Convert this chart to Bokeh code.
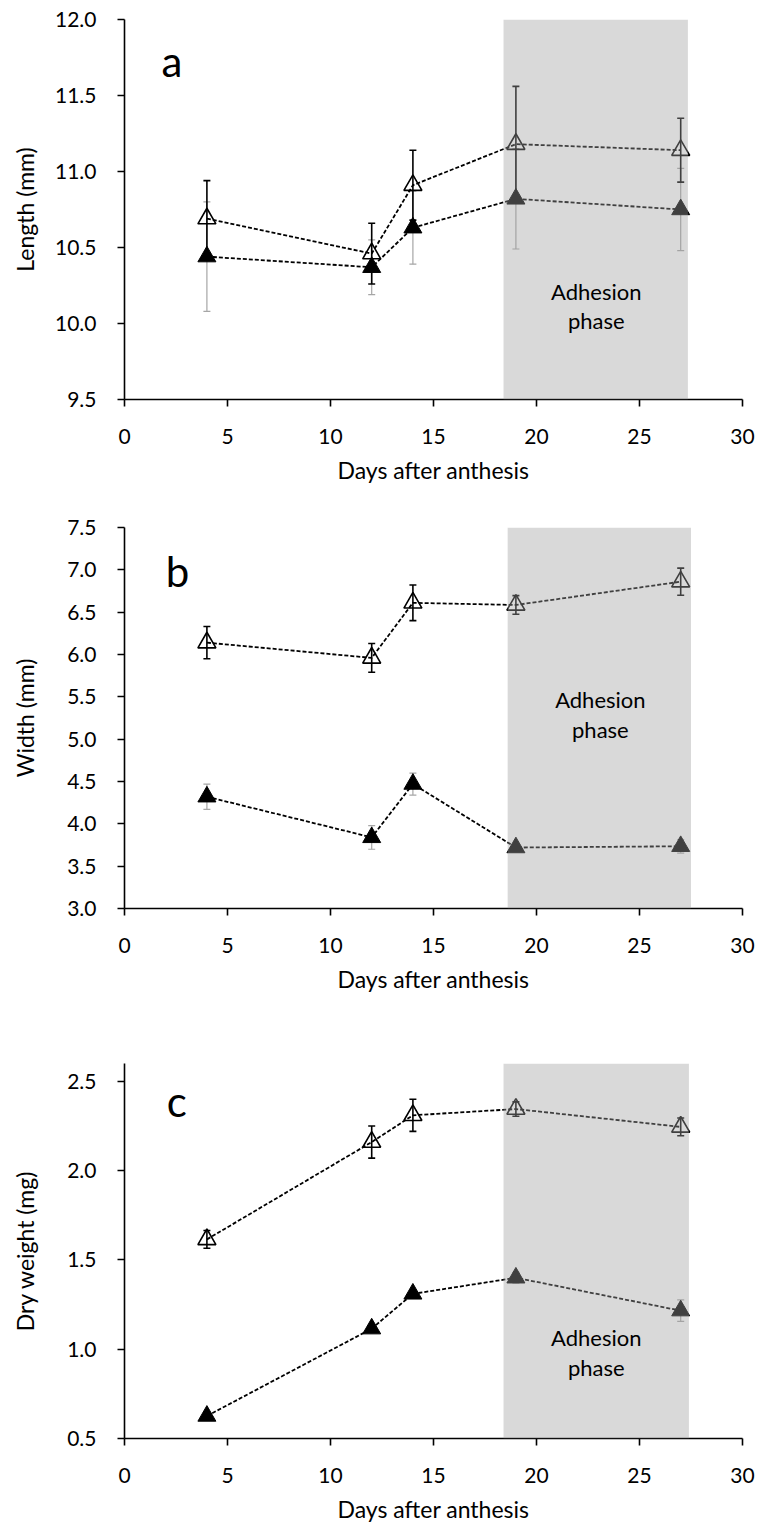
from bokeh.plotting import figure
from bokeh.layouts import column
from bokeh.models import ColumnDataSource, Whisker, TeeHead, BoxAnnotation, Range1d, FixedTicker
from bokeh.embed import file_html
from bokeh.resources import INLINE
from bokeh.core.properties import value

# ---------------- data ----------------
days = [4, 12, 14, 19, 27]
x_ticks = [0, 5, 10, 15, 20, 25, 30]

length_open = [10.69, 10.46, 10.91, 11.18, 11.14]
length_open_err = [0.25, 0.20, 0.23, 0.38, 0.21]
length_filled = [10.44, 10.37, 10.63, 10.82, 10.75]
length_filled_err = [0.36, 0.18, 0.24, 0.33, 0.27]
length_ticks = [9.5, 10.0, 10.5, 11.0, 11.5, 12.0]

width_open = [6.14, 5.96, 6.61, 6.585, 6.86]
width_open_err = [0.19, 0.17, 0.21, 0.11, 0.16]
width_filled = [4.32, 3.84, 4.47, 3.72, 3.735]
width_filled_err = [0.15, 0.14, 0.13, 0.03, 0.08]
width_ticks = [3.0, 3.5, 4.0, 4.5, 5.0, 5.5, 6.0, 6.5, 7.0, 7.5]

dry_open = [1.615, 2.16, 2.31, 2.345, 2.245]
dry_open_err = [0.05, 0.09, 0.09, 0.04, 0.05]
dry_filled = [0.626, 1.115, 1.31, 1.40, 1.216]
dry_filled_err = [0.02, 0.02, 0.02, 0.03, 0.06]
dry_ticks = [0.5, 1.0, 1.5, 2.0, 2.5]

adhesion_start = [18.4, 18.6, 18.4]
adhesion_end = [27.35, 27.5, 27.4]

panel_letters = ["a", "b", "c"]
y_titles = ["Length (mm)", "Width (mm)", "Dry weight (mg)"]
x_title = "Days after anthesis"
shade_label = ["Adhesion", "phase"]

FONT = "Lato"
FS = "21px"
FT = "23px"


def fmt_ticks(ticks):
    return {t: f"{t:.1f}" for t in ticks}


def make_panel(idx, open_v, open_e, fill_v, fill_e, yticks, yrange, height,
               b_top, b_bottom, letter_pos, shade_text_pos, ytitle_standoff):
    p = figure(width=757, height=height, x_range=Range1d(0, 30), y_range=Range1d(*yrange),
               output_backend="svg", toolbar_location=None,
               min_border_left=124, min_border_right=15,
               min_border_top=b_top, min_border_bottom=b_bottom)
    p.outline_line_color = None
    p.xgrid.visible = False
    p.ygrid.visible = False
    p.background_fill_color = "white"
    p.border_fill_color = "white"

    for ax in (p.xaxis[0], p.yaxis[0]):
        ax.axis_line_width = 1.6
        ax.axis_line_color = "black"
        ax.major_tick_line_color = "black"
        ax.major_tick_line_width = 1.6
        ax.major_tick_in = 0
        ax.major_tick_out = 7
        ax.minor_tick_line_color = None
        ax.major_label_text_font = FONT
        ax.major_label_text_font_size = FS
        ax.major_label_text_color = "black"
        ax.axis_label_text_font = FONT
        ax.axis_label_text_font_size = FT
        ax.axis_label_text_font_style = "normal"
        ax.axis_label_text_color = "black"

    p.xaxis.ticker = FixedTicker(ticks=x_ticks)
    p.xaxis.major_label_standoff = 22
    p.xaxis.axis_label = x_title
    p.xaxis.axis_label_standoff = 9

    p.yaxis.ticker = FixedTicker(ticks=yticks)
    p.yaxis.major_label_overrides = fmt_ticks(yticks)
    p.yaxis.major_label_standoff = 21
    p.yaxis.axis_label = y_titles[idx]
    p.yaxis.axis_label_standoff = ytitle_standoff

    src_o = ColumnDataSource(dict(x=days, y=open_v,
                                  lo=[v - e for v, e in zip(open_v, open_e)],
                                  hi=[v + e for v, e in zip(open_v, open_e)]))
    src_f = ColumnDataSource(dict(x=days, y=fill_v,
                                  lo=[v - e for v, e in zip(fill_v, fill_e)],
                                  hi=[v + e for v, e in zip(fill_v, fill_e)]))

    # error bars (drawn underneath the markers)
    wf = Whisker(source=src_f, base="x", lower="lo", upper="hi", line_color="#a6a6a6", line_width=1.2,
                 upper_head=TeeHead(size=7, line_color="#a6a6a6", line_width=1.2),
                 lower_head=TeeHead(size=7, line_color="#a6a6a6", line_width=1.2), level="underlay")
    wo = Whisker(source=src_o, base="x", lower="lo", upper="hi", line_color="black", line_width=1.6,
                 upper_head=TeeHead(size=7, line_color="black", line_width=1.6),
                 lower_head=TeeHead(size=7, line_color="black", line_width=1.6), level="underlay")
    p.add_layout(wf)
    p.add_layout(wo)

    # lines
    p.line("x", "y", source=src_o, line_color="black", line_width=1.8, line_dash="4 2")
    p.line("x", "y", source=src_f, line_color="black", line_width=1.8, line_dash="4 2")

    # markers
    p.scatter("x", "y", source=src_o, marker="triangle", size=18, fill_alpha=0,
              line_color="black", line_width=1.6)
    p.scatter("x", "y", source=src_f, marker="triangle", size=18, fill_color="black",
              line_color="black", line_width=1)

    # adhesion phase shading
    box = BoxAnnotation(left=adhesion_start[idx], right=adhesion_end[idx],
                        fill_color="#a0a0a0", fill_alpha=0.4, line_color=None)
    p.add_layout(box)

    # texts
    sx, sy1, sy2 = shade_text_pos
    p.text(x=[sx, sx], y=[sy1, sy2], text=shade_label, text_font=value(FONT),
           text_font_size="22px", text_align="center", text_baseline="middle",
           text_color="black", level="overlay")
    lx, ly = letter_pos
    p.text(x=[lx], y=[ly], text=[panel_letters[idx]], text_font=value(FONT),
           text_font_size="42px", text_align="left", text_baseline="alphabetic",
           text_color="black", level="overlay")
    return p


pa = make_panel(0, length_open, length_open_err, length_filled, length_filled_err,
                length_ticks, (9.5, 12.0), 512, 19, 113,
                (1.8, 11.73), (22.9, 10.21, 10.02), 13)
pb = make_panel(1, width_open, width_open_err, width_filled, width_filled_err,
                width_ticks, (3.0, 7.5), 536, 15, 140,
                (2.0, 6.99), (23.1, 5.47, 5.12), 25)
pc = make_panel(2, dry_open, dry_open_err, dry_filled, dry_filled_err,
                dry_ticks, (0.5, 2.6), 477, 15, 85,
                (2.05, 2.39), (22.9, 1.063, 0.896), 25)

layout = column(pa, pb, pc, spacing=0)
open("out.html", "w").write(file_html(layout, INLINE))
